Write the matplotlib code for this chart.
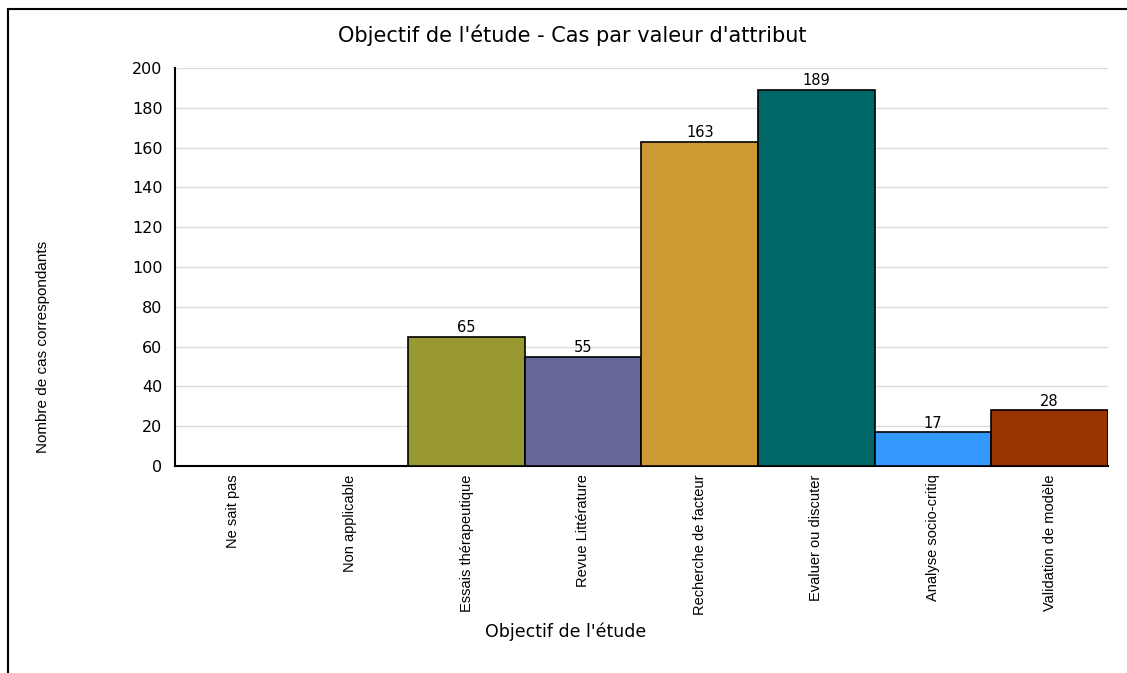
import matplotlib.pyplot as plt
from matplotlib.lines import Line2D

# Données
categories = ["Ne sait pas", "Non applicable", "Essais thérapeutique", "Revue Littérature",
              "Recherche de facteur", "Evaluer ou discuter", "Analyse socio-critiq", "Validation de modèle"]
valeurs = [0, 0, 65, 55, 163, 189, 17, 28]
couleurs = ["#999933", "#999933", "#999933", "#666699", "#CC9933", "#006666", "#3399FF", "#993300"]

fig = plt.figure(figsize=(11.27, 6.73), dpi=100)
ax = fig.add_axes([0.1553, 0.3076, 0.8278, 0.5914])

x = range(len(categories))
barres = ax.bar(x, valeurs, width=1.0, color=couleurs, edgecolor="black", linewidth=1.2, zorder=3)

# Étiquettes des valeurs (uniquement pour les barres non nulles)
for b, v in zip(barres, valeurs):
    if v > 0:
        ax.annotate(str(v), (b.get_x() + b.get_width() / 2, v), textcoords="offset points",
                    xytext=(0, 1), ha="center", va="bottom", fontsize=10.5)

ax.set_xlim(-0.5, len(categories) - 0.5)
ax.set_ylim(0, 200)
ax.set_yticks(range(0, 201, 20))
ax.tick_params(axis="y", labelsize=11.5, length=0, pad=9)
ax.set_xticks(list(x))
ax.set_xticklabels(categories, rotation=90, fontsize=10.5, family="Liberation Sans")
ax.tick_params(axis="x", length=0, pad=6)
ax.grid(axis="y", color="#dddddd", linewidth=1, zorder=0)
for s in ["top", "right"]:
    ax.spines[s].set_visible(False)
ax.spines["left"].set_linewidth(1.5)
ax.spines["bottom"].set_linewidth(1.5)

fig.text(0.508, 0.948, "Objectif de l'étude - Cas par valeur d'attribut", ha="center", va="center", fontsize=15)
fig.text(0.038, 0.484, "Nombre de cas correspondants", rotation=90, ha="center", va="center",
         fontsize=11, family="Liberation Sans")
fig.text(0.502, 0.061, "Objectif de l'étude", ha="center", va="center", fontsize=12.5)

# Cadre gauche et haut
fig.add_artist(Line2D([0.0067, 0.0067], [0, 0.986], color="black", linewidth=1.5))
fig.add_artist(Line2D([0.0067, 1.0], [0.986, 0.986], color="black", linewidth=1.5))

fig.savefig("out.png", dpi=100)
